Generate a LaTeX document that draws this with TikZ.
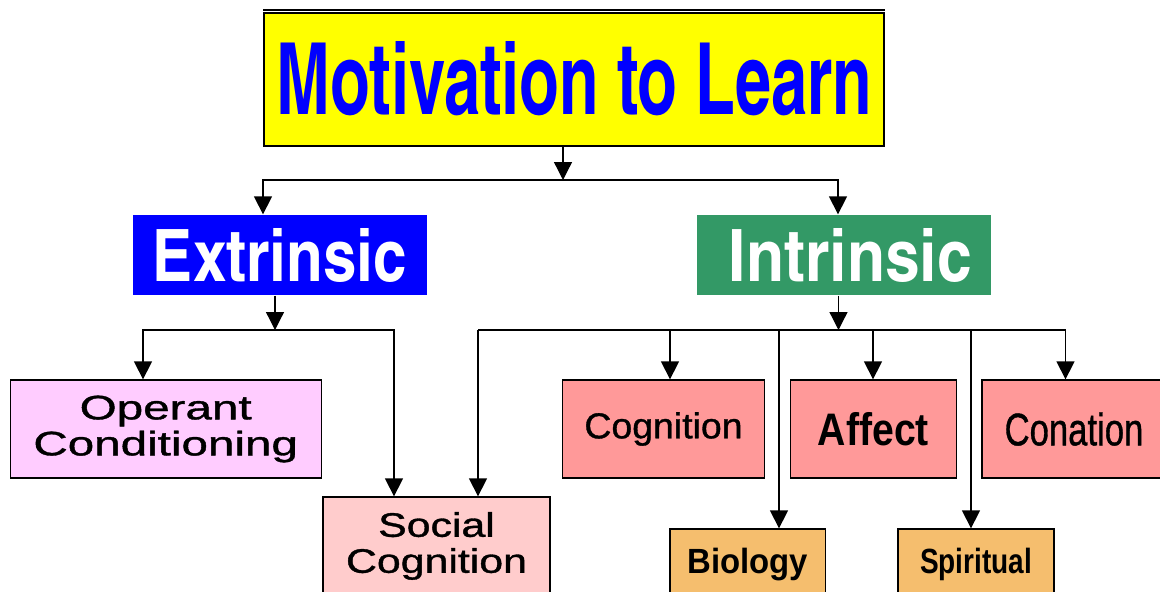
\documentclass[tikz,border=0pt]{standalone}
\usepackage{fontspec}
\setmainfont{Liberation Sans}
\newfontfamily\condfont{texgyreheroscn-bold.otf}
\newfontfamily\medfont{Liberation Sans}[FakeBold=1]
\usetikzlibrary{arrows.meta}

\definecolor{titleyellow}{HTML}{FFFF00}
\definecolor{extblue}{HTML}{0000FF}
\definecolor{intgreen}{HTML}{339966}
\definecolor{operpink}{HTML}{FFCCFF}
\definecolor{socpink}{HTML}{FFCCCC}
\definecolor{salmon}{HTML}{FF9999}
\definecolor{boxtan}{HTML}{F5BE6E}

\newcommand{\wide}[2]{\scalebox{#1}[1]{#2}}

\begin{document}
\begin{tikzpicture}[x=1pt,y=-1pt,line width=1.3pt,>={Triangle[length=18pt,width=18pt]}]
  \useasboundingbox (0,0) rectangle (1160,592);
  \clip (0,0) rectangle (1160,592);

  % headings
  \begin{scope}[every node/.style={rectangle,inner sep=0pt}]
    \node[draw,fill=titleyellow,minimum width=620pt,minimum height=133pt] (title) at (574,79.5)
      {\raisebox{3pt}{\resizebox{595pt}{73pt}{\condfont\color{extblue}Motivation to Learn}}};
    \node[fill=extblue,minimum width=294pt,minimum height=80pt] (ext) at (280,255)
      {\resizebox{254pt}{53pt}{\condfont\color{white}Extrinsic}};
    \node[fill=intgreen,minimum width=294pt,minimum height=80pt] (int) at (843.5,255)
      {\hspace*{14pt}\resizebox{243pt}{53pt}{\condfont\color{white}Intrinsic}};
  \end{scope}
  \draw ([yshift=2.5pt]title.north west) -- ([yshift=2.5pt]title.north east);

  % theories
  \begin{scope}[every node/.style={rectangle,draw,inner sep=0pt,align=center,minimum height=98pt}]
    \node[fill=operpink,minimum width=311pt,font=\medfont\fontsize{34}{36}\selectfont] (oper) at (165.7,429)
      {\wide{1.4}{Operant}\\\wide{1.4}{Conditioning}};
    \node[fill=socpink,minimum width=227pt,font=\medfont\fontsize{34}{36}\selectfont] (social) at (436.5,546)
      {\wide{1.26}{Social}\\\wide{1.26}{Cognition}};
    \node[fill=salmon,minimum width=202pt,font=\medfont\fontsize{36}{38}\selectfont] (cog) at (663.5,429)
      {\wide{1.04}{Cognition}};
    \node[fill=salmon,minimum width=166pt,font=\fontsize{45.6}{48}\selectfont\bfseries] (affect) at (873.5,429)
      {\wide{0.86}{Affect}};
    \node[fill=salmon,minimum width=184pt,font=\medfont\fontsize{45.6}{48}\selectfont] (conation) at (1074,429)
      {\wide{0.76}{Conation}};
    \node[fill=boxtan,minimum width=155.5pt,minimum height=71pt,font=\fontsize{35}{37}\selectfont\bfseries] (bio) at (747.8,564.5)
      {\wide{0.94}{Biology}};
    \node[fill=boxtan,minimum width=156pt,minimum height=71pt,font=\fontsize{35}{37}\selectfont\bfseries] (spirit) at (976,564.5)
      {\wide{0.8}{Spiritual}};
  \end{scope}

  % top split
  \coordinate (j0) at (563,180);
  \coordinate (jext) at (263,180);
  \coordinate (jint) at (838,180);
  \draw[->] (title.south -| j0) -- (j0);
  \draw[->] (j0) -- (jext) -- (jext |- ext.north);
  \draw[->] (j0) -- (jint) -- (jint |- int.north);

  % extrinsic split
  \coordinate (j1) at (275,330);
  \coordinate (j1l) at (143,330);
  \coordinate (j1r) at (394,330);
  \draw[->] (ext.south -| j1) -- (j1);
  \draw[->] (j1) -- (j1l) -- (j1l |- oper.north);
  \draw[->] (j1) -- (j1r) -- (j1r |- social.north);

  % intrinsic split
  \coordinate (j2) at (838.5,330);
  \coordinate (t1) at (478,330);
  \coordinate (t2) at (670,330);
  \coordinate (t3) at (779,330);
  \coordinate (t4) at (873,330);
  \coordinate (t5) at (971,330);
  \coordinate (t6) at (1065.5,330);
  \draw[->] (int.south -| j2) -- (j2);
  \draw (t1) -- (t6);
  \foreach \t/\n in {t1/social,t2/cog,t3/bio,t4/affect,t5/spirit,t6/conation}
    \draw[->] (\t) -- (\t |- \n.north);

\end{tikzpicture}
\end{document}
